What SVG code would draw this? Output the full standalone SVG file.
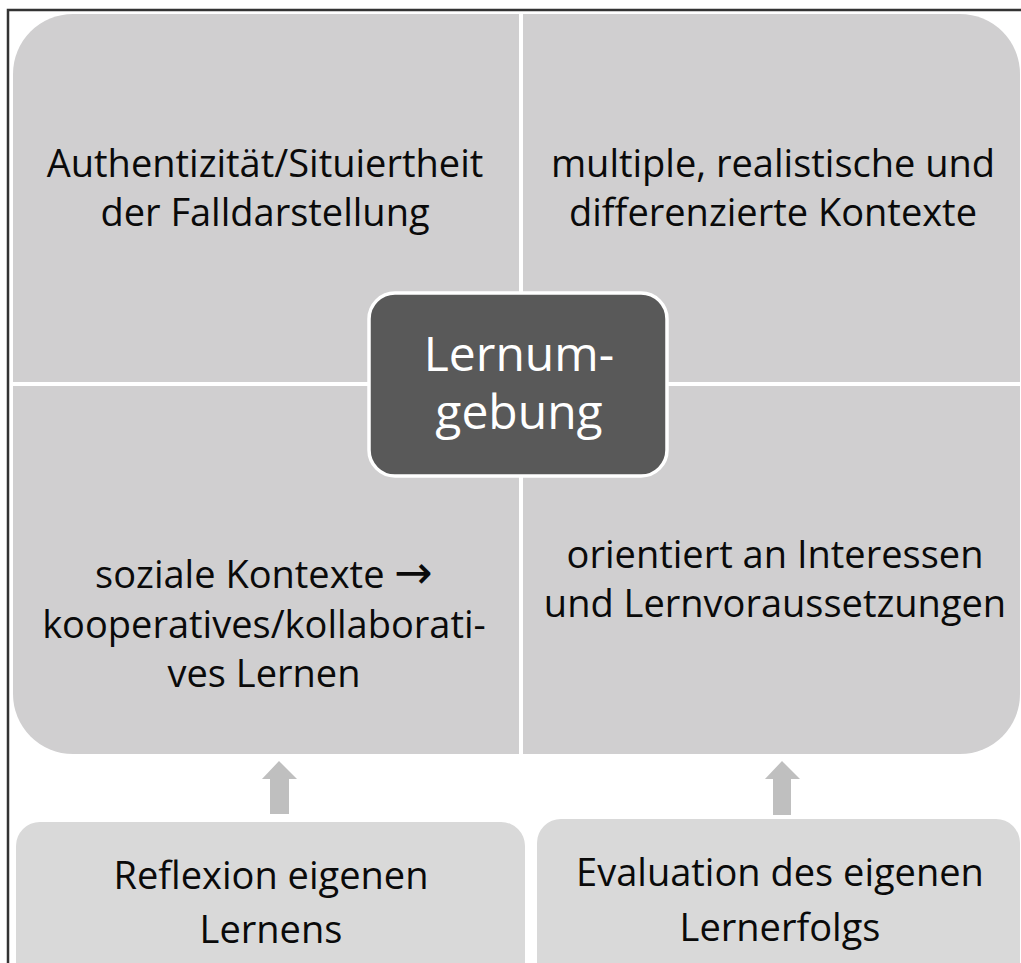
<svg xmlns="http://www.w3.org/2000/svg" width="1021" height="963" viewBox="0 0 1021 963">
<style>
.q{fill:#d0cfd0}
.b{fill:#d9d9d9}
.arr{fill:#bfbfbf}
.t{font-family:"Open Sans","Liberation Sans",sans-serif;font-size:38px;fill:#0a0a0a;text-anchor:middle}
.c{font-family:"Open Sans","Liberation Sans",sans-serif;font-size:48px;fill:#fff;text-anchor:middle}
.ar{font-family:"DejaVu Sans",sans-serif;font-size:46px}
</style>
<rect width="1021" height="963" fill="#fff"/>
<path d="M8 963 V10 H1021" fill="none" stroke="#333" stroke-width="2.5"/>
<g id="q-tl">
<path class="q" d="M13 382 V74 A60 60 0 0 1 73 14 H519 V382 Z"/>
<text class="t" x="265" y="177">Authentizität/Situiertheit</text>
<text class="t" x="265" y="226">der Falldarstellung</text>
</g>
<g id="q-tr">
<path class="q" d="M523 14 H960 A60 60 0 0 1 1020 74 V382 H523 Z"/>
<text class="t" x="773" y="177">multiple, realistische und</text>
<text class="t" x="773" y="226">differenzierte Kontexte</text>
</g>
<g id="q-bl">
<path class="q" d="M13 386 H519 V754 H73 A60 60 0 0 1 13 694 Z"/>
<text class="t" x="264" y="588">soziale Kontexte <tspan class="ar">→</tspan></text>
<text class="t" x="264" y="638">kooperatives/kollaborati-</text>
<text class="t" x="264" y="687">ves Lernen</text>
</g>
<g id="q-br">
<path class="q" d="M523 386 H1020 V694 A60 60 0 0 1 960 754 H523 Z"/>
<text class="t" x="775" y="568">orientiert an Interessen</text>
<text class="t" x="775" y="617">und Lernvoraussetzungen</text>
</g>
<g id="center">
<rect x="369" y="293" width="298" height="183" rx="26" fill="#595959" stroke="#fff" stroke-width="3.5"/>
<text class="c" x="519" y="371">Lernum-</text>
<text class="c" x="519" y="429">gebung</text>
</g>
<g id="bottom-left">
<rect class="b" x="16" y="822" width="509" height="170" rx="24"/>
<text class="t" x="271" y="889">Reflexion eigenen</text>
<text class="t" x="271" y="943">Lernens</text>
</g>
<g id="bottom-right">
<rect class="b" x="537" y="819" width="483" height="170" rx="24"/>
<text class="t" x="780" y="886">Evaluation des eigenen</text>
<text class="t" x="780" y="941">Lernerfolgs</text>
</g>
<g id="connectors">
<polygon class="arr" points="279,761 297,779 289,779 289,814 270,814 270,779 262,779"/>
<polygon class="arr" points="782,761 800,779 791,779 791,815 773,815 773,779 765,779"/>
</g>
</svg>
